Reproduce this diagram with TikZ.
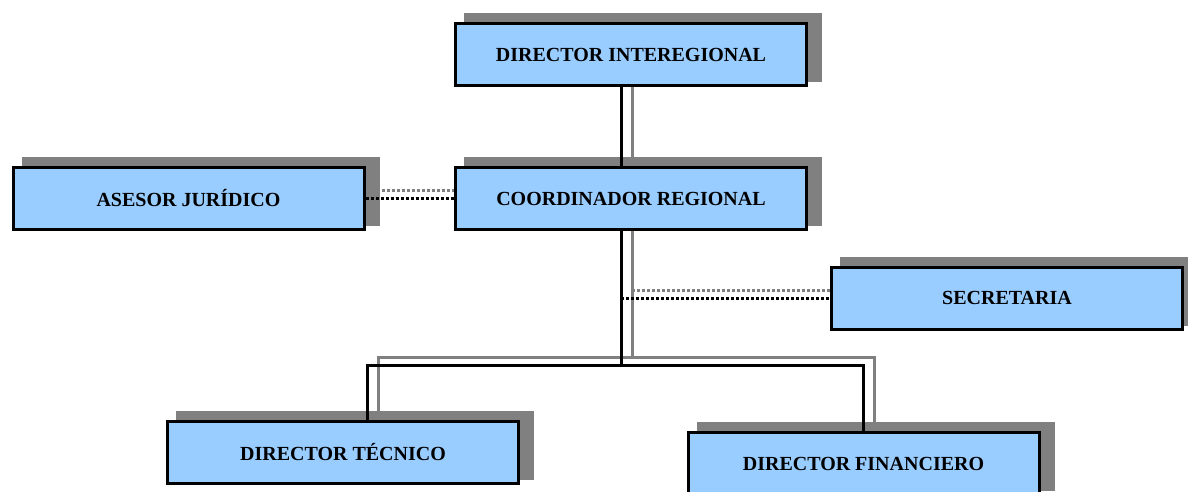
\documentclass[tikz,border=0pt]{standalone}
\usepackage{fontspec}
\setmainfont{Liberation Serif}
\usetikzlibrary{backgrounds}

\definecolor{boxblue}{HTML}{99CCFF}
\definecolor{shadowgray}{HTML}{808080}

\tikzset{
    orgbox/.style={draw, line width=3pt, fill=boxblue, minimum width=351pt, minimum height=62pt,
        inner sep=0pt, font=\bfseries\fontsize{20}{24}\selectfont},
    solidline/.style={line width=3pt},
    dotline/.style={line width=3pt, dash pattern=on 3pt off 2pt},
    cast/.style={preaction={draw=shadowgray, #1, transform canvas={shift={(11pt,8pt)}}}, #1},
}

\begin{document}
\begin{tikzpicture}[x=1pt, y=-1pt]
                \useasboundingbox (0,0) rectangle (1188,491);
                \node[orgbox] (dirint) at (631,54.5) {DIRECTOR INTEREGIONAL};
                \node[orgbox] (asesor) at (188.5,198.5) {ASESOR JURÍDICO};
                \node[orgbox] (coord) at (631,198.5) {COORDINADOR REGIONAL};
                \node[orgbox] (secret) at (1007,298) {SECRETARIA};
                \node[orgbox] (tecnico) at (343,452.5) {DIRECTOR TÉCNICO};
                \node[orgbox] (financ) at (863.5,463.5) {DIRECTOR FINANCIERO};
                % shadows and lines go behind the boxes
                \begin{scope}[on background layer]
                    \foreach \n in {dirint,asesor,coord,secret,tecnico,financ}
                        \fill[shadowgray] ([shift={(10pt,9pt)}]\n.north west) rectangle ([shift={(14pt,5pt)}]\n.south east);
                    \coordinate (bus) at ([shift={(-10pt,-134pt)}]coord.south);
                    \draw[cast=solidline] ([xshift=24pt]tecnico.north) |- (bus) -| (financ.north);
                    \draw[cast=solidline] ([xshift=-10pt]dirint.south) -- ([xshift=-10pt]coord.north);
                    \draw[cast=solidline] ([xshift=-10pt]coord.south) -- (bus);
                    \draw[cast=dotline] (asesor) -- (coord);
                    \draw[cast=dotline] (secret.west -| bus) -- (secret.west);
                \end{scope}
            \end{tikzpicture}
\end{document}
